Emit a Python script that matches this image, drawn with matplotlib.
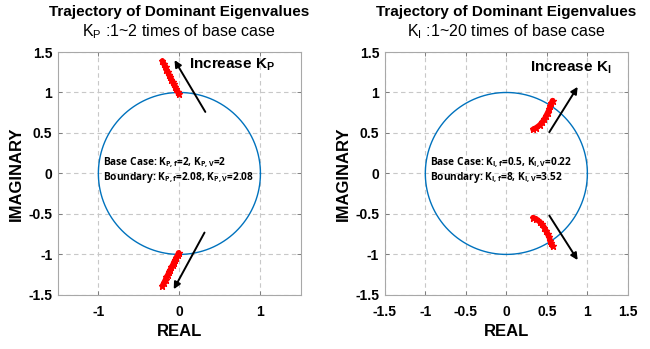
import numpy as np
import matplotlib.pyplot as plt

plt.rcParams["font.family"] = ["Liberation Sans", "DejaVu Sans"]
plt.rcParams["mathtext.default"] = "regular"

# Dominant eigenvalue trajectories (real, imag), upper and lower branches
kp_upper_re = [-0.01, -0.02, -0.04, -0.05, -0.07, -0.08, -0.10, -0.11, -0.13, -0.14, -0.16, -0.17, -0.19, -0.21]
kp_upper_im = [0.98, 1.01, 1.04, 1.07, 1.10, 1.13, 1.16, 1.19, 1.22, 1.25, 1.28, 1.31, 1.35, 1.39]
kp_lower_re = [-0.01, -0.02, -0.04, -0.05, -0.07, -0.08, -0.10, -0.11, -0.13, -0.14, -0.16, -0.17, -0.19, -0.21]
kp_lower_im = [-0.98, -1.01, -1.04, -1.07, -1.10, -1.13, -1.16, -1.19, -1.22, -1.25, -1.28, -1.31, -1.35, -1.39]

ki_upper_re = [0.33, 0.37, 0.41, 0.44, 0.47, 0.49, 0.51, 0.53, 0.54, 0.555, 0.57]
ki_upper_im = [0.545, 0.565, 0.595, 0.63, 0.67, 0.71, 0.75, 0.79, 0.83, 0.865, 0.90]
ki_lower_re = [0.33, 0.37, 0.41, 0.44, 0.47, 0.49, 0.51, 0.53, 0.54, 0.555, 0.57]
ki_lower_im = [-0.545, -0.565, -0.595, -0.63, -0.67, -0.71, -0.75, -0.79, -0.83, -0.865, -0.90]

# Arrows showing direction of increasing gain: (start, end)
kp_arrows = [((0.32, 0.76), (-0.06, 1.40)), ((0.31, -0.73), (-0.07, -1.43))]
ki_arrows = [((0.53, 0.51), (0.88, 1.07)), ((0.53, -0.52), (0.88, -1.07))]

kp_notes = ["Base Case: K$_{P,f}$=2, K$_{P,V}$=2",
            "Boundary: K$_{P,f}$=2.08, K$_{P,V}$=2.08"]
ki_notes = ["Base Case: K$_{I,f}$=0.5, K$_{I,V}$=0.22",
            "Boundary: K$_{I,f}$=8, K$_{I,V}$=3.52"]

title = "Trajectory of Dominant Eigenvalues"
kp_sub = "K$_P$ :1~2 times of base case"
ki_sub = "K$_I$ :1~20 times of base case"

ticks_half = [-1.5, -1, -0.5, 0, 0.5, 1, 1.5]
tick_labels = ["-1.5", "-1", "-0.5", "0", "0.5", "1", "1.5"]

CIRCLE_COLOR = "#0072BD"
GRID_COLOR = "#c8c8c8"
NOTE_FONT = ["Open Sans", "DejaVu Sans"]


def style_axes(ax, xticks, xlabels):
    ax.set_xlim(-1.5, 1.5)
    ax.set_ylim(-1.5, 1.5)
    ax.set_xticks(xticks)
    ax.set_xticklabels(xlabels)
    ax.set_yticks(ticks_half)
    ax.set_yticklabels(tick_labels)
    ax.grid(True, color=GRID_COLOR, linestyle=(0, (4, 3)), linewidth=0.8)
    ax.set_axisbelow(True)
    for s in ax.spines.values():
        s.set_color("#a8a8a8")
        s.set_linewidth(0.8)
    ax.tick_params(direction="in", length=3, width=0.6, color="#707070",
                   top=True, right=True, labelsize=10)
    ax.tick_params(axis="x", pad=7)
    ax.tick_params(axis="y", pad=4)
    for lab in ax.get_xticklabels() + ax.get_yticklabels():
        lab.set_fontweight("bold")
    ax.set_xlabel("REAL", fontsize=12, fontweight="bold", labelpad=4)
    ax.set_ylabel("IMAGINARY", fontsize=12, fontweight="bold", labelpad=3)


def draw_panel(ax, up_re, up_im, lo_re, lo_im, arrows, notes, label, label_xy, sub):
    theta = np.linspace(0, 2 * np.pi, 400)
    ax.plot(np.cos(theta), np.sin(theta), color=CIRCLE_COLOR, linewidth=1.0)
    for re, im in [(up_re, up_im), (lo_re, lo_im)]:
        ax.plot(re, im, color="red", linewidth=4, solid_capstyle="round")
        ax.plot(re, im, linestyle="none", marker="*", markersize=5, color="red")
    for (x0, y0), (x1, y1) in arrows:
        ax.annotate("", xy=(x1, y1), xytext=(x0, y0),
                    arrowprops=dict(arrowstyle="-|>", color="black", lw=1.4,
                                    mutation_scale=10, shrinkA=0, shrinkB=0))
    ax.text(label_xy[0], label_xy[1], label, fontsize=11, fontweight="bold",
            ha="left", va="center")
    ax.text(-0.94, 0.12, notes[0], fontsize=7.3, fontweight="bold",
            family=NOTE_FONT, ha="left", va="center")
    ax.text(-0.94, -0.05, notes[1], fontsize=7.3, fontweight="bold",
            family=NOTE_FONT, ha="left", va="center")
    ax.text(0.5, 1.165, title, transform=ax.transAxes, fontsize=11,
            fontweight="bold", ha="center", va="center")
    ax.text(0.5, 1.085, sub, transform=ax.transAxes, fontsize=11.5,
            ha="center", va="center")


fig = plt.figure(figsize=(6.5, 3.49), dpi=100)
ax1 = fig.add_axes([0.089, 0.155, 0.374, 0.696])
ax2 = fig.add_axes([0.592, 0.155, 0.374, 0.696])

draw_panel(ax1, kp_upper_re, kp_upper_im, kp_lower_re, kp_lower_im, kp_arrows,
           kp_notes, "Increase K$_P$", (0.12, 1.34), kp_sub)
style_axes(ax1, [-1, 0, 1], ["-1", "0", "1"])

draw_panel(ax2, ki_upper_re, ki_upper_im, ki_lower_re, ki_lower_im, ki_arrows,
           ki_notes, "Increase K$_I$", (0.29, 1.31), ki_sub)
style_axes(ax2, ticks_half, tick_labels)

fig.savefig("out.png", dpi=100)
